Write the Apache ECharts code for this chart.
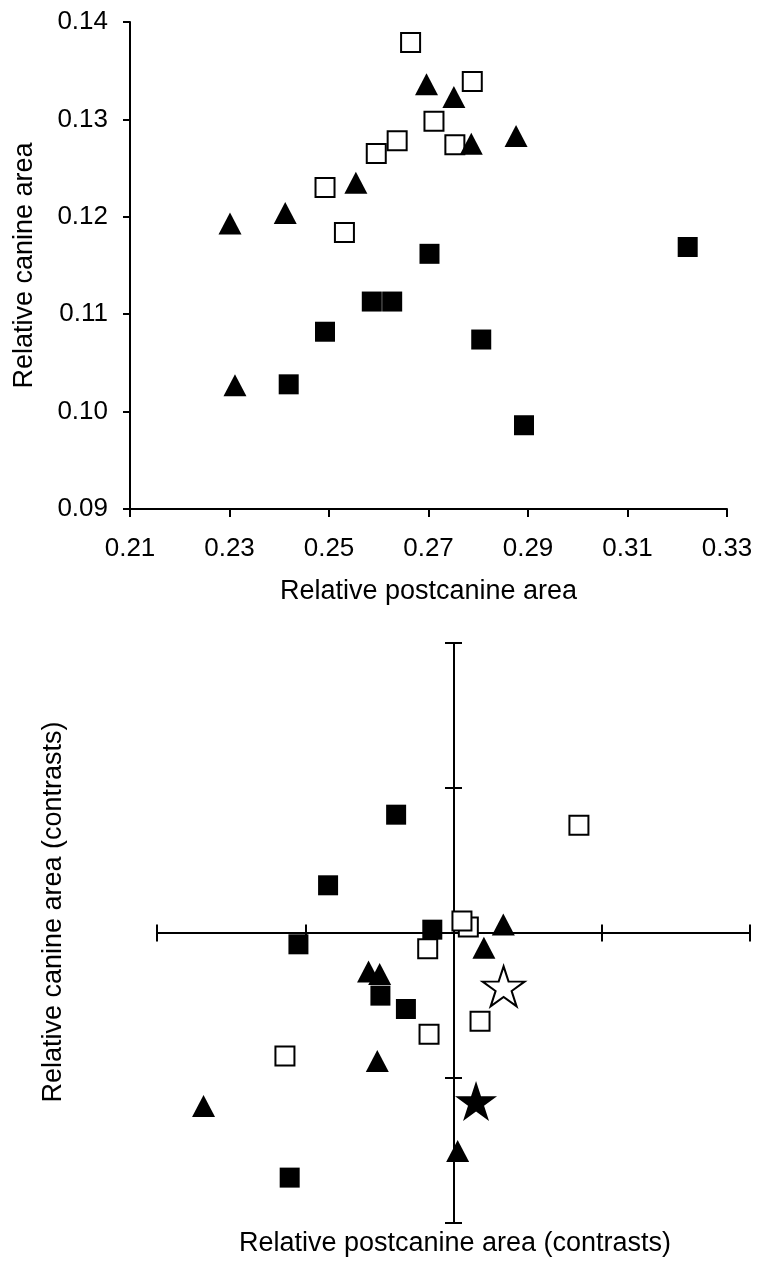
<!DOCTYPE html>
<html>
<head>
<meta charset="utf-8">
<script src="https://cdn.jsdelivr.net/npm/echarts@6/dist/echarts.min.js"></script>
<style>
  html, body { margin: 0; padding: 0; background: #fff; }
  #chart { width: 757px; height: 1262px; }
</style>
</head>
<body>
<div id="chart"></div>
<script>
// top panel: raw relative areas
const openSquareX = [0.2664, 0.2788, 0.2711, 0.2637, 0.2595, 0.2753, 0.2492, 0.2531]
const openSquareY = [0.1379, 0.1339, 0.1298, 0.1278, 0.1265, 0.1274, 0.1230, 0.1184]
const triangleX = [0.2696, 0.2751, 0.2786, 0.2876, 0.2554, 0.2301, 0.2412, 0.2311]
const triangleY = [0.1336, 0.1323, 0.1275, 0.1283, 0.1235, 0.1193, 0.1204, 0.1027]
const filledSquareX = [0.2702, 0.3221, 0.2586, 0.2627, 0.2492, 0.2806, 0.2419, 0.2892]
const filledSquareY = [0.1162, 0.1169, 0.1113, 0.1113, 0.1082, 0.1074, 0.1028, 0.0986]

// bottom panel: contrasts
const contrastFilledSquareX = [-0.387, -0.846, -1.046, -0.143, -0.493, -0.321, -1.105]
const contrastFilledSquareY = [0.816, 0.329, -0.078, 0.023, -0.432, -0.524, -1.687]
const contrastOpenSquareX = [0.846, 0.100, 0.057, -0.174, 0.179, -0.165, -1.137]
const contrastOpenSquareY = [0.743, 0.041, 0.083, -0.108, -0.609, -0.699, -0.848]
const contrastTriangleX = [0.336, 0.205, -0.573, -0.498, -0.514, -1.686, 0.028]
const contrastTriangleY = [0.058, -0.101, -0.266, -0.283, -0.883, -1.193, -1.503]
const openStarXY = [0.338, -0.368]
const filledStarXY = [0.152, -1.159]

const FONT = "'Liberation Sans', Arial, sans-serif"
const STAR = 'path://M50,0L61.23,34.55L97.55,34.55L68.17,55.9L79.39,90.45L50,69.1L20.61,90.45L31.83,55.9L2.45,34.55L38.77,34.55Z'

function zip(xs, ys) {
  return xs.map((x, i) => [x, ys[i]])
}

const lineStyle = { color: '#000', width: 2 }

const filledSquare = { symbol: 'rect', symbolSize: 20, itemStyle: { color: '#000', opacity: 1 } }
const openSquare = { symbol: 'rect', symbolSize: 19, itemStyle: { color: '#fff', borderColor: '#000', borderWidth: 2, opacity: 1 } }
const triangle = { symbol: 'triangle', symbolSize: [23, 22], itemStyle: { color: '#000', opacity: 1 } }

function scatter(gridIdx, data, style) {
  return Object.assign({
    type: 'scatter',
    xAxisIndex: gridIdx === 0 ? 0 : 1,
    yAxisIndex: gridIdx === 0 ? 0 : 1,
    data: data,
    silent: true,
    animation: false,
  }, style)
}

// crossing axes of the contrast plot, one per side so the ticks cross the line
function contrastAxis(position) {
  return {
    type: 'value',
    gridIndex: 1,
    position: position,
    min: -2,
    max: 2,
    interval: 1,
    axisLine: { show: true, onZero: true, lineStyle: lineStyle },
    axisTick: { show: true, length: 8.5, lineStyle: lineStyle },
    axisLabel: { show: false },
    splitLine: { show: false },
  }
}

const chart = echarts.init(document.getElementById('chart'))

chart.setOption({
  backgroundColor: '#fff',
  animation: false,
  textStyle: { fontFamily: FONT },
  grid: [
    { left: 130, top: 22, width: 597, height: 487 },
    { left: 157, top: 643, width: 593, height: 580 },
  ],
  xAxis: [
    {
      type: 'value',
      gridIndex: 0,
      min: 0.21,
      max: 0.33,
      interval: 0.02,
      name: 'Relative postcanine area',
      nameLocation: 'middle',
      nameGap: 69,
      nameTextStyle: { color: '#000', fontSize: 27, fontFamily: FONT },
      axisLine: { show: true, onZero: false, lineStyle: lineStyle },
      axisTick: { show: true, length: 8, lineStyle: lineStyle },
      axisLabel: {
        color: '#000',
        fontSize: 26,
        fontFamily: FONT,
        margin: 27,
        formatter: (v) => v.toFixed(2),
      },
      splitLine: { show: false },
    },
    contrastAxis('bottom'),
    contrastAxis('top'),
  ],
  yAxis: [
    {
      type: 'value',
      gridIndex: 0,
      min: 0.09,
      max: 0.14,
      interval: 0.01,
      name: 'Relative canine area',
      nameLocation: 'middle',
      nameGap: 92,
      nameTextStyle: { color: '#000', fontSize: 27, fontFamily: FONT },
      axisLine: { show: true, onZero: false, lineStyle: lineStyle },
      axisTick: { show: true, length: 7, lineStyle: lineStyle },
      axisLabel: {
        color: '#000',
        fontSize: 26,
        fontFamily: FONT,
        margin: 22,
        formatter: (v) => v.toFixed(2),
      },
      splitLine: { show: false },
    },
    contrastAxis('left'),
    contrastAxis('right'),
  ],
  graphic: [
    {
      type: 'text',
      x: 455,
      y: 1244,
      style: {
        text: 'Relative postcanine area (contrasts)',
        fill: '#000',
        font: '27px ' + FONT,
        textAlign: 'center',
        textVerticalAlign: 'middle',
      },
    },
    {
      type: 'text',
      x: 54,
      y: 912,
      rotation: Math.PI / 2,
      style: {
        text: 'Relative canine area (contrasts)',
        fill: '#000',
        font: '27px ' + FONT,
        textAlign: 'center',
        textVerticalAlign: 'middle',
      },
    },
  ],
  series: [
    scatter(0, zip(filledSquareX, filledSquareY), filledSquare),
    scatter(0, zip(openSquareX, openSquareY), openSquare),
    scatter(0, zip(triangleX, triangleY), triangle),

    scatter(1, zip(contrastFilledSquareX, contrastFilledSquareY), filledSquare),
    scatter(1, zip(contrastOpenSquareX, contrastOpenSquareY), openSquare),
    scatter(1, zip(contrastTriangleX, contrastTriangleY), triangle),
    scatter(1, [openStarXY], { symbol: STAR, symbolSize: [42, 40], itemStyle: { color: '#fff', borderColor: '#000', borderWidth: 2, opacity: 1 } }),
    scatter(1, [filledStarXY], { symbol: STAR, symbolSize: [42, 40], itemStyle: { color: '#000', opacity: 1 } }),
  ],
})
</script>
</body>
</html>
